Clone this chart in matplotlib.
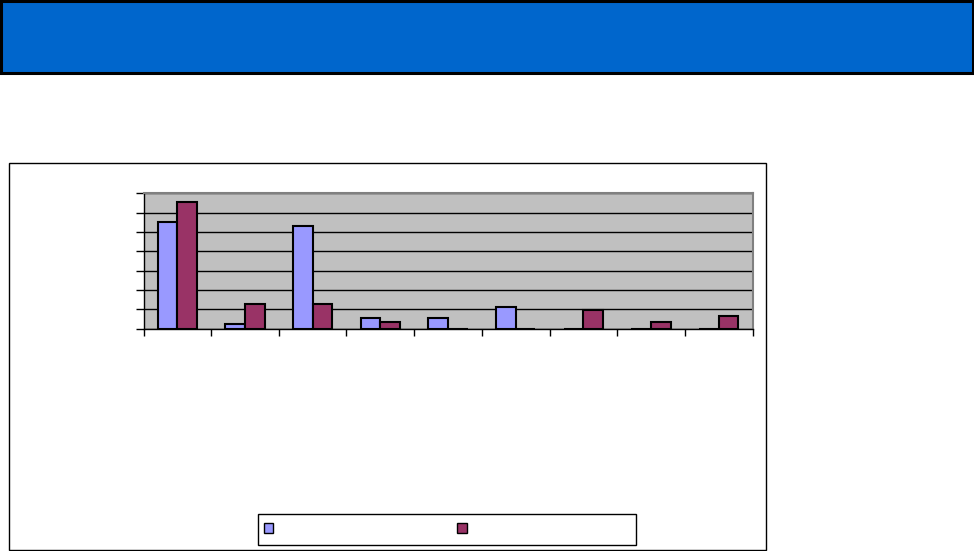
"""Grouped bar chart with blue header band, no text (as in the source slide)."""

import matplotlib
matplotlib.use("Agg")
import matplotlib.pyplot as plt
import numpy as np
from matplotlib.patches import Rectangle

# ---- data (gridline step = 5) ----------------------------------------- #
categories = ["", "", "", "", "", "", "", "", ""]
series_a = [27.7, 1.2, 26.5, 2.8, 2.8, 5.6, 0.0, 0.0, 0.0]
series_b = [32.8, 6.3, 6.3, 1.6, 0.0, 0.0, 4.9, 1.6, 3.3]
series_colors = ["#9999FF", "#993366"]

W, H = 974, 551
fig = plt.figure(figsize=(W / 100, H / 100), dpi=100)


def fx(px):
    return px / W


def fy(py):
    return 1 - py / H


# ---- header band ------------------------------------------------------ #
fig.patches.append(Rectangle((fx(1), fy(72.5)), fx(972), 71.5 / H,
                             transform=fig.transFigure, fc="#0066CC",
                             ec="black", lw=2.2))

# ---- chart area border ------------------------------------------------ #
fig.patches.append(Rectangle((fx(8.5), fy(550)), fx(757.5), 387.5 / H,
                             transform=fig.transFigure, fc="white",
                             ec="black", lw=1.0))

# ---- plot area -------------------------------------------------------- #
ax = fig.add_axes([fx(143.5), fy(328.5), fx(752.5 - 143.5), (328.5 - 193.5) / H])
ax.set_zorder(5)
ax.set_facecolor("#C0C0C0")

x = np.arange(len(categories))
w = 0.29
ax.bar(x - w / 2, series_a, w, color=series_colors[0], ec="black", lw=1.5, zorder=3)
ax.bar(x + w / 2, series_b, w, color=series_colors[1], ec="black", lw=1.5, zorder=3)

ax.set_xlim(-0.5, len(categories) - 0.5)
ax.set_ylim(0, 35)
ax.set_yticks(np.arange(0, 36, 5))
ax.set_xticks(np.arange(-0.5, len(categories), 1))
ax.set_xticklabels([])
ax.set_yticklabels([])
ax.yaxis.grid(True, color="black", lw=1.0, zorder=1)
ax.set_axisbelow(True)
ax.tick_params(axis="y", length=6, width=1, direction="out")
ax.tick_params(axis="x", length=5, width=1, direction="out")
for s in ("top", "right"):
    ax.spines[s].set_color("#808080")
    ax.spines[s].set_linewidth(1.5)
for s in ("left", "bottom"):
    ax.spines[s].set_color("black")
    ax.spines[s].set_linewidth(1.0)

# ---- legend box (labels are empty in the source) ---------------------- #
fig.patches.append(Rectangle((fx(257.5), fy(544.5)), fx(378), 31 / H,
                             transform=fig.transFigure, fc="white",
                             ec="black", lw=1.0))
for px, c in zip((263.5, 457), series_colors):
    fig.patches.append(Rectangle((fx(px), fy(532.5)), fx(9.5), 9.5 / H,
                                 transform=fig.transFigure, fc=c,
                                 ec="black", lw=1.0))

fig.savefig("out.png", dpi=100)
